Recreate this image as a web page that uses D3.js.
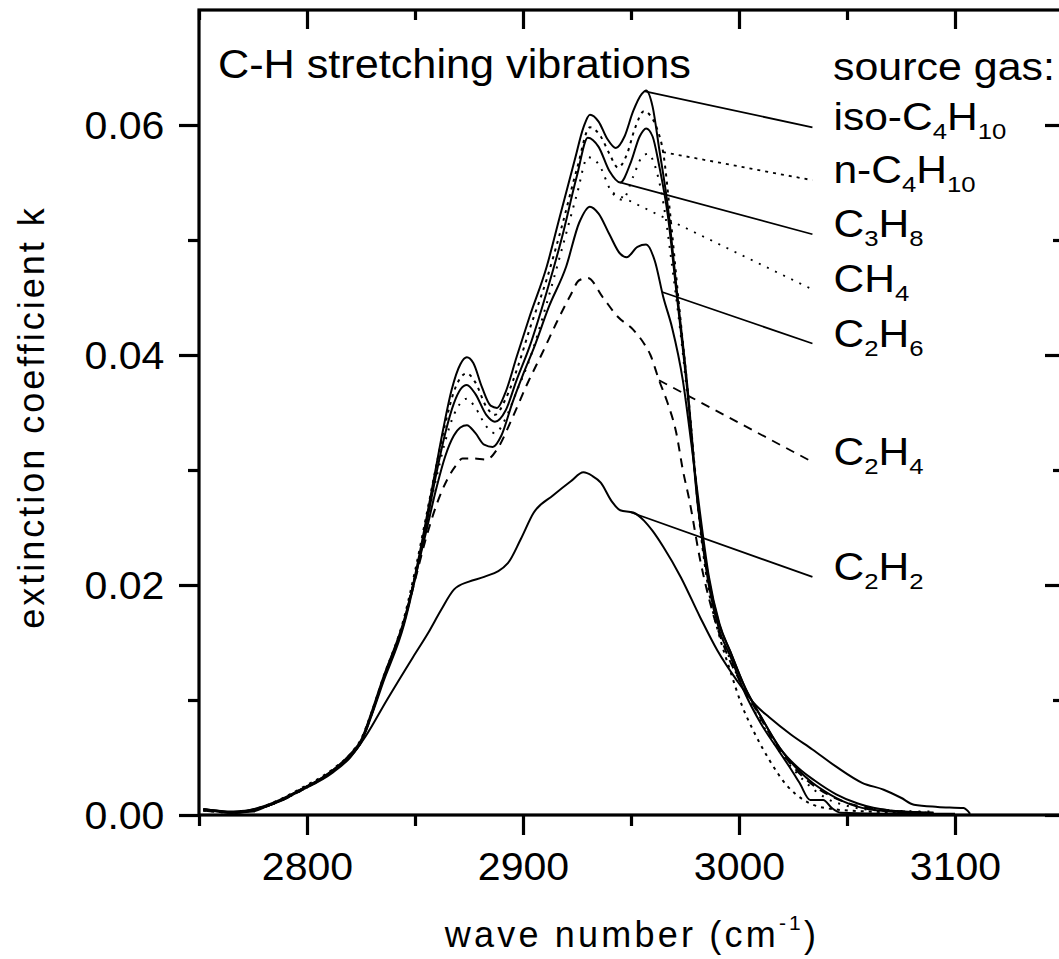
<!DOCTYPE html>
<html>
<head>
<meta charset="utf-8">
<script src="https://cdn.jsdelivr.net/npm/d3@7"></script>
<style>
	body { margin: 0; background: #fff; }
	svg { display: block; font-family: 'Liberation Sans', Arial, Helvetica, sans-serif; }
</style>
</head>
<body>
<div class="chart"></div>
<script>

// [wave number (cm-1), extinction coefficient k]
const isoC4H10 = [[2752,0.0005],[2758,0.0004],[2766,0.0002],[2775,0.0003],[2782,0.0008],[2790,0.0014],[2797,0.0022],[2805,0.0030],[2812,0.0039],[2819,0.0050],[2825,0.0064],[2830,0.0088],[2835,0.0116],[2840,0.0140],[2845,0.0168],[2850,0.0208],[2855,0.0255],[2859,0.0295],[2863,0.0335],[2867,0.0370],[2871,0.0392],[2874,0.0398],[2877,0.0393],[2881,0.0372],[2885,0.0356],[2888,0.0354],[2892,0.0368],[2897,0.0398],[2903,0.0433],[2911,0.0477],[2917,0.0520],[2924,0.0570],[2928,0.0598],[2931,0.0609],[2935,0.0603],[2939,0.0588],[2943,0.0580],[2947,0.0590],[2951,0.0612],[2955,0.0627],[2957,0.0630],[2960,0.0616],[2963,0.0580],[2967,0.0530],[2971,0.0460],[2976,0.0375],[2981,0.0270],[2986,0.0200],[2991,0.0160],[2996,0.0138],[3003,0.0105],[3010,0.0080],[3018,0.0057],[3024,0.0040],[3028,0.0028],[3033,0.0013],[3039,0.0013],[3043,0.0006],[3047,0.0002],[3070,0.0001],[3100,0.0001]]

const nC4H10 = [[2752,0.0004],[2766,0.0002],[2782,0.0009],[2797,0.0023],[2812,0.0040],[2820,0.0053],[2825,0.0066],[2830,0.0090],[2835,0.0118],[2845,0.0172],[2850,0.0212],[2855,0.0258],[2860,0.0305],[2864,0.0340],[2868,0.0368],[2871,0.0380],[2874,0.0384],[2878,0.0376],[2883,0.0355],[2887,0.0348],[2892,0.0362],[2898,0.0392],[2903,0.0422],[2911,0.0466],[2918,0.0512],[2925,0.0562],[2931,0.0598],[2936,0.0590],[2940,0.0575],[2944,0.0563],[2948,0.0574],[2952,0.0598],[2956,0.0612],[2959,0.0608],[2962,0.0597],[2965,0.0575],[2968,0.0525],[2972,0.0448],[2977,0.0355],[2982,0.0250],[2986,0.0195],[2991,0.0155],[2996,0.0125],[3001,0.0097],[3007,0.0072],[3014,0.0048],[3022,0.0026],[3030,0.0013],[3040,0.0006],[3060,0.0003],[3090,0.0002]]

const C3H8 = [[2752,0.0005],[2766,0.0003],[2782,0.0008],[2797,0.0022],[2812,0.0038],[2820,0.0051],[2825,0.0063],[2830,0.0087],[2835,0.0114],[2845,0.0166],[2850,0.0205],[2855,0.0250],[2860,0.0298],[2864,0.0332],[2868,0.0358],[2871,0.0370],[2874,0.0374],[2878,0.0366],[2883,0.0348],[2887,0.0342],[2892,0.0352],[2897,0.0378],[2903,0.0407],[2911,0.0455],[2918,0.0502],[2925,0.0556],[2930,0.0589],[2935,0.0581],[2940,0.0560],[2945,0.0550],[2950,0.0568],[2954,0.0590],[2957,0.0597],[2960,0.0590],[2963,0.0565],[2967,0.0522],[2971,0.0455],[2976,0.0370],[2981,0.0268],[2986,0.0205],[2991,0.0165],[2996,0.0142],[3003,0.0110],[3010,0.0086],[3019,0.0058],[3028,0.0038],[3034,0.0028],[3042,0.0018],[3048,0.0012],[3060,0.0005],[3080,0.0002]]

const CH4 = [[2752,0.0004],[2766,0.0002],[2782,0.0008],[2797,0.0021],[2812,0.0038],[2820,0.0052],[2825,0.0064],[2830,0.0089],[2835,0.0117],[2845,0.0170],[2850,0.0208],[2855,0.0252],[2860,0.0294],[2864,0.0325],[2868,0.0348],[2871,0.0358],[2874,0.0362],[2878,0.0354],[2883,0.0338],[2887,0.0332],[2892,0.0345],[2897,0.0368],[2903,0.0396],[2911,0.0445],[2918,0.0492],[2925,0.0540],[2930,0.0572],[2935,0.0566],[2941,0.0542],[2946,0.0535],[2951,0.0555],[2955,0.0572],[2958,0.0575],[2961,0.0565],[2965,0.0532],[2969,0.0478],[2973,0.0418],[2978,0.0330],[2983,0.0242],[2988,0.0185],[2993,0.0150],[2999,0.0122],[3005,0.0098],[3012,0.0075],[3020,0.0052],[3030,0.0030],[3040,0.0015],[3050,0.0008],[3065,0.0004],[3090,0.0003]]

const C2H6 = [[2752,0.0005],[2766,0.0002],[2782,0.0009],[2797,0.0022],[2812,0.0039],[2820,0.0053],[2825,0.0065],[2830,0.0090],[2835,0.0118],[2845,0.0170],[2850,0.0206],[2855,0.0245],[2860,0.0285],[2864,0.0312],[2868,0.0330],[2871,0.0337],[2874,0.0339],[2878,0.0332],[2882,0.0322],[2886,0.0320],[2890,0.0330],[2895,0.0358],[2900,0.0383],[2905,0.0406],[2912,0.0442],[2920,0.0477],[2926,0.0515],[2931,0.0529],[2935,0.0523],[2940,0.0505],[2945,0.0488],[2948,0.0485],[2953,0.0494],[2957,0.0496],[2961,0.0482],[2965,0.0450],[2969,0.0424],[2974,0.0378],[2978,0.0322],[2982,0.0262],[2986,0.0208],[2991,0.0166],[2996,0.0142],[3003,0.0110],[3010,0.0086],[3019,0.0058],[3028,0.0040],[3035,0.0030],[3045,0.0018],[3055,0.0010],[3070,0.0004],[3090,0.0002]]

const C2H4 = [[2752,0.0004],[2766,0.0002],[2782,0.0008],[2797,0.0021],[2812,0.0038],[2820,0.0051],[2825,0.0063],[2830,0.0088],[2835,0.0116],[2845,0.0168],[2850,0.0204],[2855,0.0240],[2860,0.0270],[2865,0.0292],[2869,0.0304],[2872,0.0310],[2877,0.0310],[2883,0.0309],[2888,0.0318],[2895,0.0345],[2902,0.0375],[2909,0.0402],[2916,0.0430],[2922,0.0452],[2926,0.0465],[2930,0.0467],[2937,0.0450],[2944,0.0433],[2951,0.0422],[2956,0.0410],[2959,0.0400],[2963,0.0378],[2967,0.0358],[2971,0.0332],[2974,0.0300],[2977,0.0274],[2982,0.0222],[2988,0.0175],[2994,0.0142],[3000,0.0118],[3008,0.0091],[3016,0.0065],[3025,0.0042],[3035,0.0025],[3048,0.0012],[3065,0.0005],[3090,0.0002]]

const C2H2 = [[2752,0.0005],[2765,0.0002],[2782,0.0008],[2797,0.0021],[2812,0.0037],[2820,0.0050],[2827,0.0068],[2837,0.0100],[2849,0.0137],[2856,0.0158],[2862,0.0178],[2868,0.0196],[2875,0.0203],[2882,0.0207],[2893,0.0219],[2899,0.0240],[2905,0.0263],[2914,0.0278],[2922,0.0290],[2928,0.0298],[2932,0.0295],[2936,0.0289],[2941,0.0273],[2945,0.0265],[2951,0.0263],[2956,0.0256],[2960,0.0247],[2965,0.0233],[2973,0.0207],[2982,0.0172],[2990,0.0143],[2999,0.0117],[3008,0.0095],[3014,0.0085],[3024,0.0070],[3034,0.0057],[3045,0.0042],[3057,0.0028],[3067,0.0022],[3075,0.0015],[3081,0.0009],[3092,0.0007],[3104,0.0006],[3107,0.0001]]

const gasNames = ['iso-C4H10', 'n-C4H10', 'C3H8', 'CH4', 'C2H6', 'C2H4', 'C2H2']
const gasSeries = [isoC4H10, nC4H10, C3H8, CH4, C2H6, C2H4, C2H2]
// wave number where each pointer leaves its curve, and k where it reaches the label
const pointerFrom = [2956.5, 2964.8, 2944.9, 2941.7, 2964.4, 2963, 2949.5]
const pointerToK = [0.0598, 0.0552, 0.0505, 0.0457, 0.0410, 0.0307, 0.0207]
const pointerToX = 3034

const xTicks = [2800, 2900, 3000, 3100]
const xMinor = [2750, 2850, 2950, 3050]
const yTicks = [0.00, 0.02, 0.04, 0.06]
const yMinor = [0.01, 0.03, 0.05]

// line styles per gas
const dashes = [null, '3,5', null, '2,7', null, '9,7', null]

const width = 1059
const height = 959

const svg = d3.select('.chart')
	.append('svg')
	.attr('width', width)
	.attr('height', height)

const x = d3.scaleLinear()
	.domain([2750, 3150])
	.range([199, 1063])

const y = d3.scaleLinear()
	.domain([0, 0.07])
	.range([815, 10])

// linear lookup of k on a curve
const kAt = (series, wn) => {
	const i = d3.bisector(d => d[0]).left(series, wn)
	const a = series[Math.max(i - 1, 0)], b = series[Math.min(i, series.length - 1)]
	if (a[0] === b[0]) return a[1]
	return a[1] + (b[1] - a[1]) * (wn - a[0]) / (b[0] - a[0])
}

const line = d3.line()
	.x(d => x(d[0]))
	.y(d => y(d[1]))
	.curve(d3.curveMonotoneX)

// spectra
svg.append('g')
	.selectAll('path')
	.data(gasSeries)
	.enter()
	.append('path')
	.attr('d', line)
	.attr('fill', 'none')
	.attr('stroke', '#000')
	.attr('stroke-width', 2)
	.attr('stroke-dasharray', (d, i) => dashes[i])

// pointers from curves to the names
svg.append('g')
	.selectAll('line')
	.data(gasSeries)
	.enter()
	.append('line')
	.attr('x1', (d, i) => x(pointerFrom[i]))
	.attr('y1', (d, i) => y(kAt(d, pointerFrom[i])))
	.attr('x2', x(pointerToX))
	.attr('y2', (d, i) => y(pointerToK[i]))
	.attr('stroke', '#000')
	.attr('stroke-width', 1.8)
	.attr('stroke-dasharray', (d, i) => dashes[i])

// text helper, glyphs of the original are a little wider than Arial
const label = (parent, tx, ty, size, sx) => parent.append('text')
	.attr('transform', `translate(${tx},${ty}) scale(${sx},1)`)
	.attr('font-size', size)
	.attr('fill', '#000')

// gas names with subscript digits
gasNames.forEach((name, i) => {
	const t = label(svg, x(pointerToX) + 21, y(pointerToK[i]) + 12, 38, 1.12)
	name.split(/(\d+)/).filter(s => s).forEach(part => {
		const sub = /^\d+$/.test(part)
		t.append('tspan')
			.attr('font-size', sub ? 23 : 38)
			.attr('dy', sub ? 9 : (t.selectAll('tspan').size() ? -9 : 0))
			.text(part)
	})
})

label(svg, 833, 80, 38, 1.13).text('source gas:')
label(svg, 218, 78, 40, 1.08).text('C-H stretching vibrations')

// axes: major and minor ticks on all four sides
const tickStyle = g => {
	g.select('.domain').remove()
	g.selectAll('.tick line').attr('stroke', '#000').attr('stroke-width', 3.2)
}

svg.append('g')
	.attr('transform', `translate(0,${y(0)})`)
	.call(d3.axisBottom(x).tickValues(xTicks).tickSize(20).tickFormat(d3.format('d')))
	.call(tickStyle)
	.call(g => g.selectAll('text')
		.attr('y', 65).attr('dy', null)
		.attr('font-size', 38)
		.attr('font-family', null)
		.attr('fill', '#000')
		.attr('transform', 'scale(1.08,1)'))

svg.append('g')
	.attr('transform', `translate(0,${y(0)})`)
	.call(d3.axisBottom(x).tickValues(xMinor).tickSize(11).tickFormat(''))
	.call(tickStyle)

svg.append('g')
	.attr('transform', `translate(${x(2750)},0)`)
	.call(d3.axisLeft(y).tickValues(yTicks).tickSize(20).tickFormat(d3.format('.2f')))
	.call(tickStyle)
	.call(g => g.selectAll('text')
		.attr('x', -32).attr('dy', '0.36em')
		.attr('font-size', 38)
		.attr('font-family', null)
		.attr('fill', '#000')
		.attr('transform', 'scale(1.08,1)'))

svg.append('g')
	.attr('transform', `translate(${x(2750)},0)`)
	.call(d3.axisLeft(y).tickValues(yMinor).tickSize(11).tickFormat(''))
	.call(tickStyle)

svg.append('g')
	.attr('transform', `translate(0,${y(0.07)})`)
	.call(d3.axisTop(x).tickValues(xTicks).tickSize(-19).tickFormat(''))
	.call(tickStyle)

svg.append('g')
	.attr('transform', `translate(0,${y(0.07)})`)
	.call(d3.axisTop(x).tickValues(xMinor).tickSize(-10).tickFormat(''))
	.call(tickStyle)

svg.append('g')
	.attr('transform', `translate(${x(3150)},0)`)
	.call(d3.axisRight(y).tickValues(yTicks).tickSize(-18).tickFormat(''))
	.call(tickStyle)

svg.append('g')
	.attr('transform', `translate(${x(3150)},0)`)
	.call(d3.axisRight(y).tickValues(yMinor).tickSize(-10).tickFormat(''))
	.call(tickStyle)

// frame
svg.append('rect')
	.attr('x', x(2750))
	.attr('y', y(0.07))
	.attr('width', x(3150) - x(2750))
	.attr('height', y(0) - y(0.07))
	.attr('fill', 'none')
	.attr('stroke', '#000')
	.attr('stroke-width', 3.2)

// axis titles
const xTitle = svg.append('text')
	.attr('x', 632)
	.attr('y', 947)
	.attr('text-anchor', 'middle')
	.attr('font-size', 36)
	.attr('letter-spacing', 3.2)

xTitle.append('tspan').text('wave number (cm')
xTitle.append('tspan').attr('font-size', 21).attr('dy', -17).text('-1')
xTitle.append('tspan').attr('dy', 17).text(')')

svg.append('text')
	.attr('transform', 'translate(44,417) rotate(-90)')
	.attr('text-anchor', 'middle')
	.attr('font-size', 36)
	.attr('letter-spacing', 3)
	.text('extinction coefficient k')

</script>
</body>
</html>
